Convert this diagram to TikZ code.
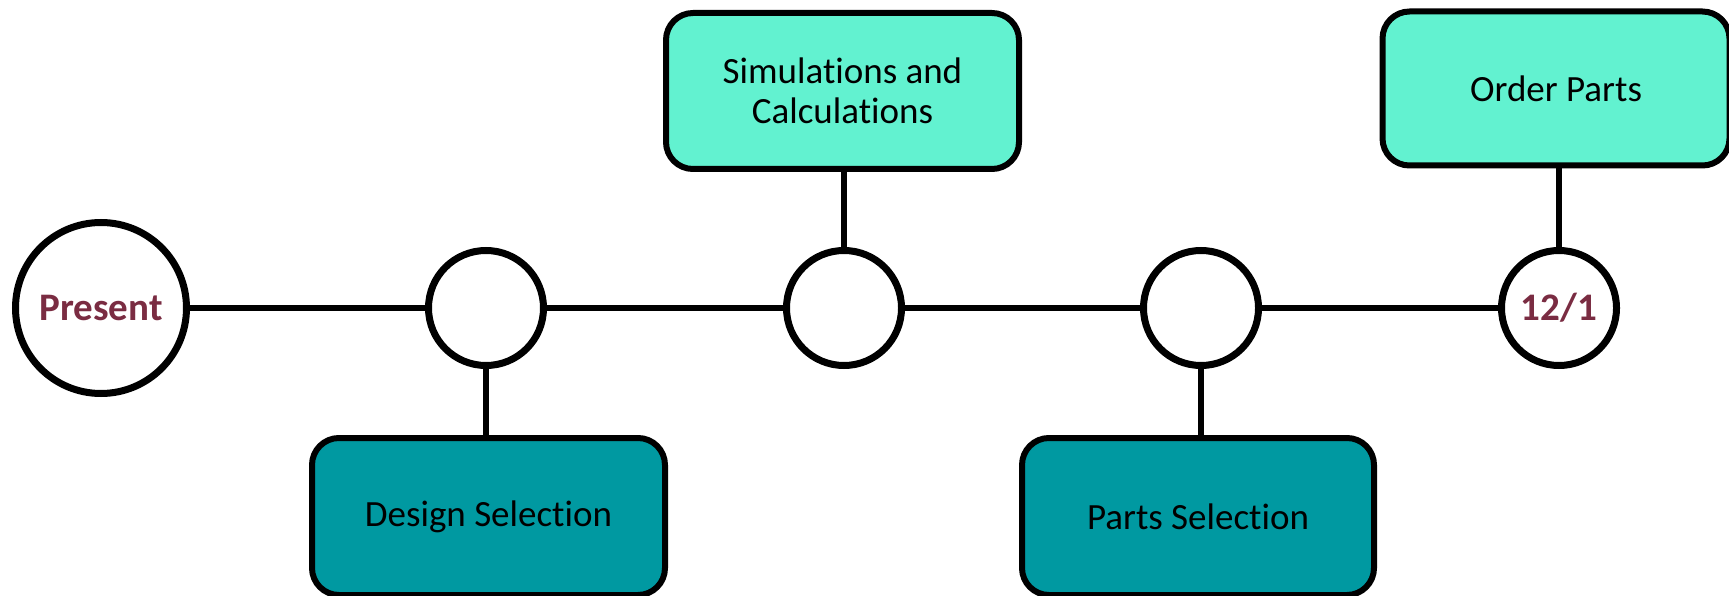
\documentclass[tikz,border=0pt]{standalone}
\usepackage{fontspec}
\setmainfont{Carlito}[Ligatures={NoCommon}]
\definecolor{lightteal}{RGB}{98,242,208}
\definecolor{darkteal}{RGB}{0,153,161}
\definecolor{maroon}{RGB}{122,44,66}
\begin{document}
\begin{tikzpicture}[x=1pt,y=-1pt,
  txt/.style={font=\fontsize{37}{40}\selectfont},
  taskbox/.style={draw=black, line width=6pt, rectangle, rounded corners=27pt,
    inner sep=0pt, outer sep=0pt, align=center, txt},
  lightbox/.style={taskbox, fill=lightteal},
  darkbox/.style={taskbox, fill=darkteal},
  milestone/.style={draw=black, line width=7pt, circle, fill=white,
    inner sep=0pt, outer sep=0pt, minimum size=115pt,
    text=maroon, font=\fontsize{39}{42}\selectfont\bfseries},
  link/.style={draw=black, line width=6pt}]
\useasboundingbox (0,0) rectangle (1729,596);

\node[milestone, minimum size=171pt] (present) at (101,308) {Present};
\node[milestone] (c1) at (486,308) {};
\node[milestone] (c2) at (844,308) {};
\node[milestone] (c3) at (1201,308) {};
\node[milestone] (c4) at (1559,308) {12/1};

\node[lightbox, minimum width=353pt, minimum height=156pt] (sim) at (842.5,91) {Simulations and\\Calculations};
\node[lightbox, minimum width=347pt, minimum height=154pt] (order) at (1556,88.5) {Order Parts};
\node[darkbox, minimum width=353pt, minimum height=157pt] (design) at (488.5,516.5) {Design Selection};
\node[darkbox, minimum width=352pt, minimum height=157pt] (parts) at (1198,516.5) {Parts Selection};

\draw[link] (present.east) -- (c1.west);
\draw[link] (c1.east) -- (c2.west);
\draw[link] (c2.east) -- (c3.west);
\draw[link] (c3.east) -- (c4.west);

\draw[link] (c1.south) -- (c1.south |- design.north);
\draw[link] (c2.north) -- (c2.north |- sim.south);
\draw[link] (c3.south) -- (c3.south |- parts.north);
\draw[link] (c4.north) -- (c4.north |- order.south);
\end{tikzpicture}
\end{document}
